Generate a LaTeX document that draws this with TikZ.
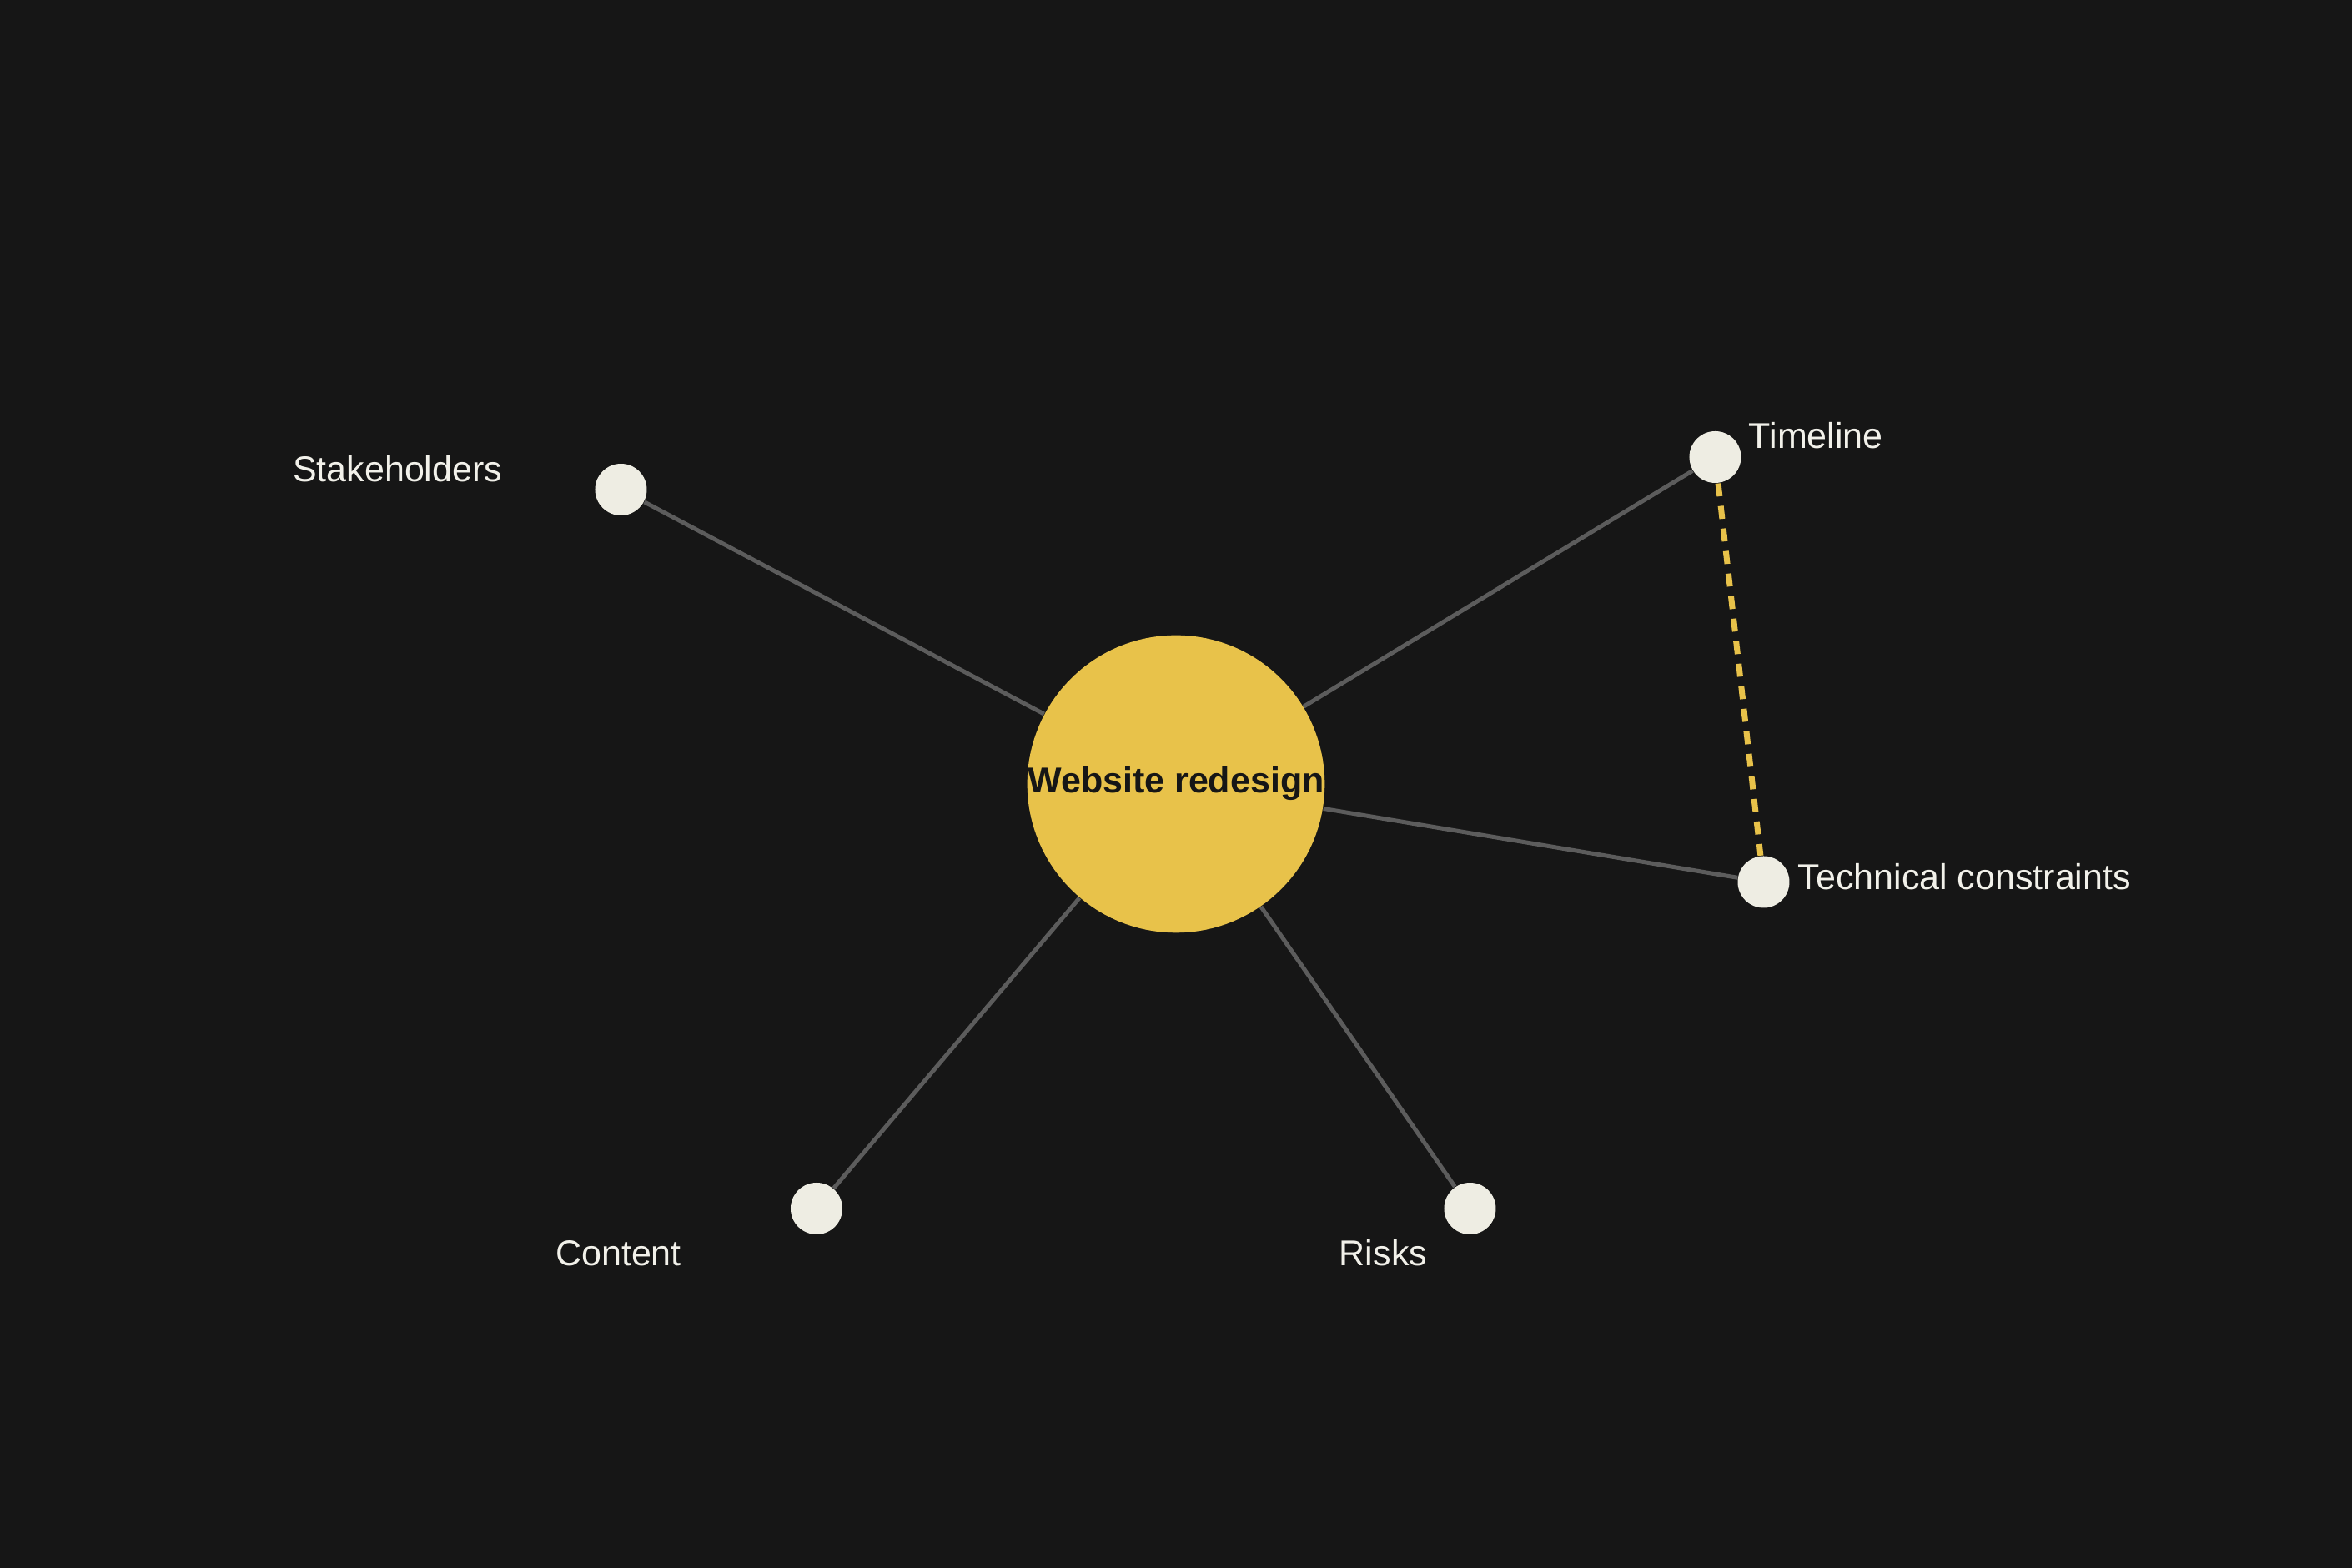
\documentclass[tikz,border=0pt]{standalone}
\usepackage{fontspec}
\setmainfont{Liberation Sans}
\usepackage{tikz}
\definecolor{bgdark}{HTML}{161616}
\definecolor{hubyellow}{HTML}{E8C24A}
\definecolor{leafwhite}{HTML}{EEEDE3}
\definecolor{labelwhite}{HTML}{F2F1EA}
\definecolor{spokegray}{HTML}{5C5C5C}

\begin{document}
\begin{tikzpicture}[x=25pt, y=25pt,
        hub/.style={circle, fill=hubyellow, inner sep=0pt, minimum size=88pt,
            text=bgdark, font=\bfseries\fontsize{10.75}{13}\selectfont},
        leaf/.style={circle, fill=leafwhite, inner sep=0pt, minimum size=15.5pt},
        lbl/.style={inner sep=0pt, text=labelwhite, font=\fontsize{10.75}{13}\selectfont},
        spoke/.style={draw=spokegray, line width=1.25pt},
        link/.style={draw=hubyellow, line width=1.75pt, dash pattern=on 3.9pt off 2.9pt}]

            \fill[bgdark] (-14.1,-9.4) rectangle (14.1,9.4);

            \node[hub] (hub) at (0,0) {Website redesign};

            \node[leaf] (stakeholders) at (-6.655, 3.53) {};
            \node[leaf] (timeline)     at ( 6.465, 3.92) {};
            \node[leaf] (technical)    at ( 7.045,-1.175) {};
            \node[leaf] (content)      at (-4.31, -5.09) {};
            \node[leaf] (risks)        at ( 3.525,-5.09) {};

            \node[lbl, anchor=base east] (stakeholders-lbl) at (-8.07, 3.62) {Stakeholders};
            \node[lbl, anchor=base west] (timeline-lbl)     at ( 6.86, 4.02) {Timeline};
            \node[lbl, anchor=base west] (technical-lbl)    at ( 7.45,-1.27) {Technical constraints};
            \node[lbl, anchor=base]      (content-lbl)      at (-6.685,-5.78) {Content};
            \node[lbl, anchor=base]      (risks-lbl)        at ( 2.485,-5.78) {Risks};

            \draw[spoke] (hub) -- (stakeholders);
            \draw[spoke] (hub) -- (timeline);
            \draw[spoke] (hub) -- (technical);
            \draw[spoke] (hub) -- (content);
            \draw[spoke] (hub) -- (risks);

            \draw[link] (timeline) -- (technical);
        \end{tikzpicture}
\end{document}
